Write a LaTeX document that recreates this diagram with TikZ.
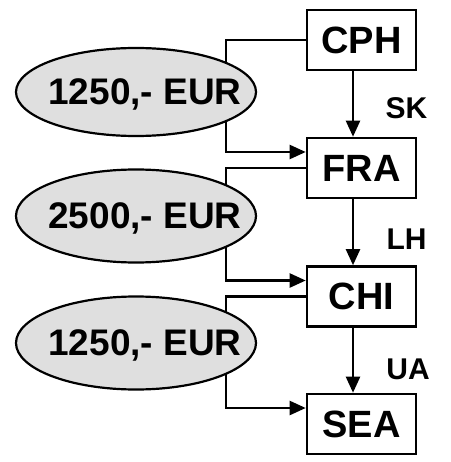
\documentclass[tikz,border=0pt]{standalone}
\usepackage{fontspec}
\setmainfont{Liberation Sans}
\usetikzlibrary{arrows.meta,shapes.geometric}
\begin{document}
\begin{tikzpicture}[x=1pt,y=-1pt,
  citybox/.style={draw,line width=2.6pt,minimum width=109pt,minimum height=60pt,inner sep=0pt,font=\fontsize{38}{40}\selectfont\bfseries},
  pricebox/.style={ellipse,draw,line width=2.2pt,fill=gray!25,minimum width=240pt,minimum height=88pt,inner sep=0pt},
  pricetext/.style={inner sep=0pt,font=\fontsize{37}{39}\selectfont\bfseries},
  airline/.style={inner sep=0pt,font=\fontsize{30}{32}\selectfont\bfseries},
  conn/.style={line width=2.3pt,-{Triangle[length=16pt,width=14pt]}},
  feed/.style={line width=2.3pt}]
\useasboundingbox (0,0) rectangle (450,462);
\node[citybox] (cph) at (361.5,40) {CPH};
\node[citybox] (fra) at (361.5,168) {FRA};
\node[citybox] (chi) at (361.5,296.5) {CHI};
\node[citybox] (sea) at (361.5,424) {SEA};
% feeding connectors
\draw[conn] (cph.west) -- ++(-80,0) |- ([yshift=16pt]fra.west);
\draw[conn] (fra.west) -- ++(-80,0) |- ([yshift=16pt]chi.west);
\draw[conn] (chi.west) -- ++(-80,0) |- ([yshift=16pt]sea.west);
% vertical arrows
\draw[conn] ([xshift=-8.5pt]cph.south) -- ([xshift=-8.5pt]fra.north);
\draw[conn] ([xshift=-8.5pt]fra.south) -- ([xshift=-8.5pt]chi.north);
\draw[conn] ([xshift=-8.5pt]chi.south) -- ([xshift=-8.5pt]sea.north);
% ellipses
\node[pricebox] (e1) at (136,92) {};
\node[pricebox,minimum height=93pt] (e2) at (136,216) {};
\node[pricebox,minimum height=93pt] (e3) at (136,343) {};
\node[pricetext] (t1) at (145,94) {1250,- EUR};
\node[pricetext] (t2) at (145,218) {2500,- EUR};
\node[pricetext] (t3) at (145,345) {1250,- EUR};
% airline labels
\node[airline] (sk) at (406.5,108) {SK};
\node[airline] (lh) at (406.5,239) {LH};
\node[airline] (ua) at (408,369) {UA};
\end{tikzpicture}
\end{document}
